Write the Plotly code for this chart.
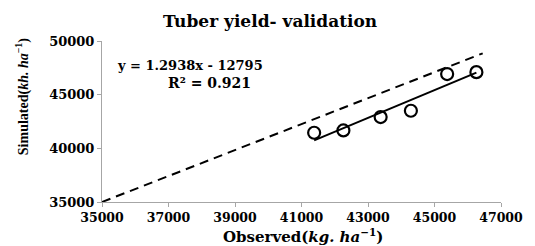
import plotly.graph_objects as go

# Data
observed = [41380, 42260, 43380, 44290, 45380, 46260]
simulated = [41450, 41670, 42910, 43500, 46920, 47100]
slope = 1.2938
intercept = -12795
r2 = 0.921
ref_x = [35000, 46450]
ref_y = [35000, 48850]
x_ticks = [35000, 37000, 39000, 41000, 43000, 45000, 47000]
y_ticks = [35000, 40000, 45000, 50000]

trend_x = [min(observed), max(observed)]
trend_y = [slope * v + intercept for v in trend_x]

fig = go.Figure()
fig.add_trace(go.Scatter(x=ref_x, y=ref_y, mode="lines",
                         line=dict(color="black", width=2, dash="9px,6px"),
                         showlegend=False, hoverinfo="skip"))
fig.add_trace(go.Scatter(x=trend_x, y=trend_y, mode="lines",
                         line=dict(color="black", width=2),
                         showlegend=False, hoverinfo="skip"))
fig.add_trace(go.Scatter(x=observed, y=simulated, mode="markers",
                         marker=dict(symbol="circle-open", size=12, color="black",
                                     line=dict(width=2.2, color="black")),
                         showlegend=False))

L, R, T, B = 102, 23, 41, 44
W, H = 535, 246
pw, ph = W - L - R, H - T - B


def px(x):
    return (x - L) / pw


def py(y):
    return (H - B - y) / ph


def ann(text, x, y, font, size, angle=0):
    return dict(text=text, x=px(x), y=py(y), xref="paper", yref="paper",
                xanchor="center", yanchor="middle", showarrow=False, textangle=angle,
                font=dict(family=font, size=size, color="black"))


fig.update_layout(
    width=W, height=H,
    margin=dict(l=L, r=R, t=T, b=B),
    paper_bgcolor="white", plot_bgcolor="white",
    xaxis=dict(range=[35000, 47000], tickvals=x_ticks,
               ticktext=["<b>%d</b>" % v for v in x_ticks],
               showgrid=False, zeroline=False, showline=True, linecolor="#a6a6a6", linewidth=1,
               ticks="outside", ticklen=4, tickcolor="#a6a6a6",
               tickfont=dict(family="DejaVu Serif", size=12.5, color="black")),
    yaxis=dict(range=[35000, 50000], tickvals=y_ticks,
               ticktext=["<b>%d</b>" % v for v in y_ticks],
               showgrid=False, zeroline=False, showline=True, linecolor="#a6a6a6", linewidth=1,
               ticks="outside", ticklen=4, tickcolor="#a6a6a6",
               tickfont=dict(family="DejaVu Serif", size=13, color="black")),
    annotations=[
        ann("<b>Tuber yield- validation</b>", 275, 21, "DejaVu Serif", 17),
        ann("<b>Observed(<i>kg. ha</i><sup>−1</sup>)</b>", 309, 236, "DejaVu Serif", 15),
        ann("<b>Simulated(<i>kh. ha</i><sup>−1</sup>)</b>", 20, 97, "Liberation Serif", 14, -90),
        ann("<b>y = %.4fx - %d</b>" % (slope, -intercept), 192, 65, "DejaVu Serif", 13),
        ann("<b>R² = %.3f</b>" % r2, 212, 83, "DejaVu Serif", 14),
    ],
)

fig.write_html("out.html", config={"displayModeBar": False},
               post_script="document.body.style.margin='0';")
